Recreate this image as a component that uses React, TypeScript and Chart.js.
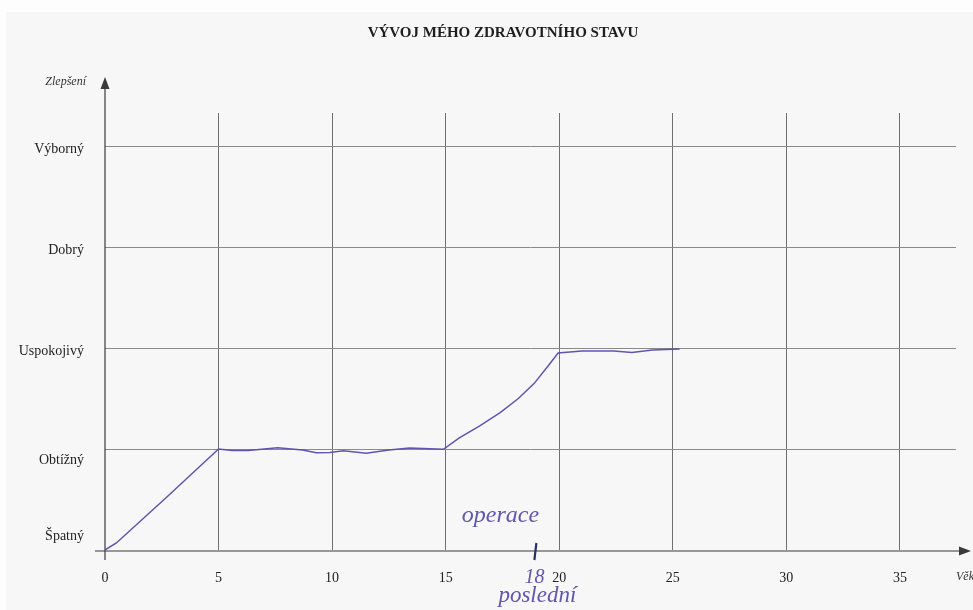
import React, { useEffect, useRef } from "react";
import { Chart, registerables } from "chart.js";

Chart.register(...registerables);

// ---- data ----
const chartTitle = "VÝVOJ MÉHO ZDRAVOTNÍHO STAVU";
const yAxisTitle = "Zlepšení";
const xAxisTitle = "Věk";
const levelLabels = ["Špatný", "Obtížný", "Uspokojivý", "Dobrý", "Výborný"];
const ages = [0, 0.5, 2.7, 5, 5.6, 6.3, 7.6, 8.7, 9.3, 9.9, 10.5, 11.5, 12.5, 13.4, 14.9, 15.6, 16.5, 17.4, 18.2, 18.9, 19.5, 19.95, 21, 22.4, 23.2, 24.1, 25.3];
const health = [0, 0.07, 0.52, 1.0, 0.985, 0.985, 1.013, 0.99, 0.963, 0.965, 0.983, 0.957, 0.99, 1.01, 0.997, 1.11, 1.23, 1.36, 1.5, 1.65, 1.82, 1.95, 1.97, 1.97, 1.955, 1.98, 1.99];
const noteTop = "operace";
const noteAgeLabel = "18";
const noteBottom = "poslední";
const noteAge = 18.95; // where the hand-drawn mark sits on the axis

const FONT = "'Liberation Serif', 'Times New Roman', serif";
const INK = "rgba(88, 76, 170, 0.95)";

const decorPlugin = {
  id: "decor",
  beforeDraw(chart: any) {
    const { ctx, width, height } = chart;
    ctx.save();
    ctx.fillStyle = "#fdfdfd";
    ctx.fillRect(0, 0, width, height);
    ctx.fillStyle = "#f7f7f7";
    ctx.fillRect(6, 12, width - 6, height - 12);
    ctx.restore();
  },
  beforeDatasetsDraw(chart: any) {
    const { ctx, chartArea, scales } = chart;
    const x0 = scales.x.getPixelForValue(0);
    const y0 = scales.y.getPixelForValue(0);
    ctx.save();
    ctx.strokeStyle = "#3a3a3a";
    ctx.fillStyle = "#3a3a3a";
    ctx.lineWidth = 1.2;
    // y axis
    ctx.beginPath();
    ctx.moveTo(x0, y0 + 10);
    ctx.lineTo(x0, chartArea.top - 26);
    ctx.stroke();
    ctx.beginPath();
    ctx.moveTo(x0, chartArea.top - 36);
    ctx.lineTo(x0 - 4.5, chartArea.top - 24);
    ctx.lineTo(x0 + 4.5, chartArea.top - 24);
    ctx.closePath();
    ctx.fill();
    // x axis
    ctx.beginPath();
    ctx.moveTo(x0 - 10, y0 + 1);
    ctx.lineTo(chartArea.right + 5, y0 + 1);
    ctx.stroke();
    ctx.beginPath();
    ctx.moveTo(chartArea.right + 15, y0 + 1);
    ctx.lineTo(chartArea.right + 3, y0 - 3.5);
    ctx.lineTo(chartArea.right + 3, y0 + 5.5);
    ctx.closePath();
    ctx.fill();
    ctx.restore();
  },
  afterDraw(chart: any) {
    const { ctx, chartArea, scales } = chart;
    const x0 = scales.x.getPixelForValue(0);
    const y0 = scales.y.getPixelForValue(0);
    ctx.save();
    // title
    ctx.fillStyle = "#1e1e1e";
    ctx.font = `bold 15px ${FONT}`;
    ctx.textAlign = "center";
    ctx.textBaseline = "middle";
    ctx.fillText(chartTitle, 503, 33);
    // axis titles
    ctx.font = `italic 12px ${FONT}`;
    ctx.textAlign = "right";
    ctx.fillStyle = "#333";
    ctx.fillText(yAxisTitle, x0 - 19, chartArea.top - 31);
    ctx.textAlign = "left";
    ctx.fillText(xAxisTitle, chartArea.right, y0 + 27);
    // hand-written notes
    const nx = scales.x.getPixelForValue(noteAge);
    ctx.fillStyle = INK;
    ctx.font = `italic 24px ${FONT}`;
    ctx.textAlign = "center";
    ctx.fillText(noteTop, nx - 35, y0 - 34);
    ctx.font = `italic 20px ${FONT}`;
    ctx.fillText(noteAgeLabel, nx - 1, y0 + 28);
    ctx.font = `italic 23px ${FONT}`;
    ctx.fillText(noteBottom, nx + 2, y0 + 46);
    ctx.strokeStyle = "#2a2f66";
    ctx.lineWidth = 2.2;
    ctx.beginPath();
    ctx.moveTo(nx + 1, y0 - 7);
    ctx.lineTo(nx - 1, y0 + 10);
    ctx.stroke();
    ctx.restore();
  },
};

export default function App() {
  const ref = useRef<HTMLCanvasElement | null>(null);
  useEffect(() => {
    if (!ref.current) return;
    const chart = new Chart(ref.current, {
      type: "line",
      data: {
        datasets: [
          {
            data: ages.map((a, i) => ({ x: a, y: health[i] })),
            borderColor: INK,
            borderWidth: 1.5,
            pointRadius: 0,
            tension: 0,
            fill: false,
          },
        ],
      },
      options: {
        animation: false,
        responsive: false,
        events: [],
        layout: { padding: { top: 113, right: 17, left: 0, bottom: 0 } },
        plugins: { legend: { display: false }, tooltip: { enabled: false }, title: { display: false } },
        scales: {
          x: {
            type: "linear",
            min: 0,
            max: 37.47,
            border: { display: false },
            grid: {
              drawTicks: false,
              lineWidth: 1,
              color: (c: any) => (c.tick && c.tick.value === 0 ? "rgba(0,0,0,0)" : "#6f6f6f"),
            },
            ticks: {
              stepSize: 5,
              includeBounds: false,
              padding: 20,
              color: "#222",
              font: { family: FONT, size: 14 },
              maxRotation: 0,
            },
            afterFit: (s: any) => {
              s.height = 60;
            },
          },
          y: {
            type: "linear",
            min: 0,
            max: 4.327,
            border: { display: false },
            grid: {
              drawTicks: false,
              lineWidth: 1,
              color: (c: any) => (c.tick && c.tick.value === 0 ? "rgba(0,0,0,0)" : "#8a8a8a"),
            },
            ticks: {
              stepSize: 1,
              includeBounds: false,
              padding: 21,
              labelOffset: 3,
              color: "#222",
              font: { family: FONT, size: 14 },
              callback: (v: any) => {
                const i = Math.round(Number(v));
                const t = levelLabels[i] ?? "";
                if (i === 0) return [t, "", ""];
                if (i === 1) return ["", t];
                return t;
              },
            },
            afterFit: (s: any) => {
              s.width = 105;
            },
          },
        },
      },
      plugins: [decorPlugin],
    } as any);
    return () => chart.destroy();
  }, []);
  return (
    <div style={{ position: "absolute", left: 0, top: 0, width: 973, height: 610 }}>
      <canvas ref={ref} width={973} height={610} style={{ display: "block" }} />
    </div>
  );
}
